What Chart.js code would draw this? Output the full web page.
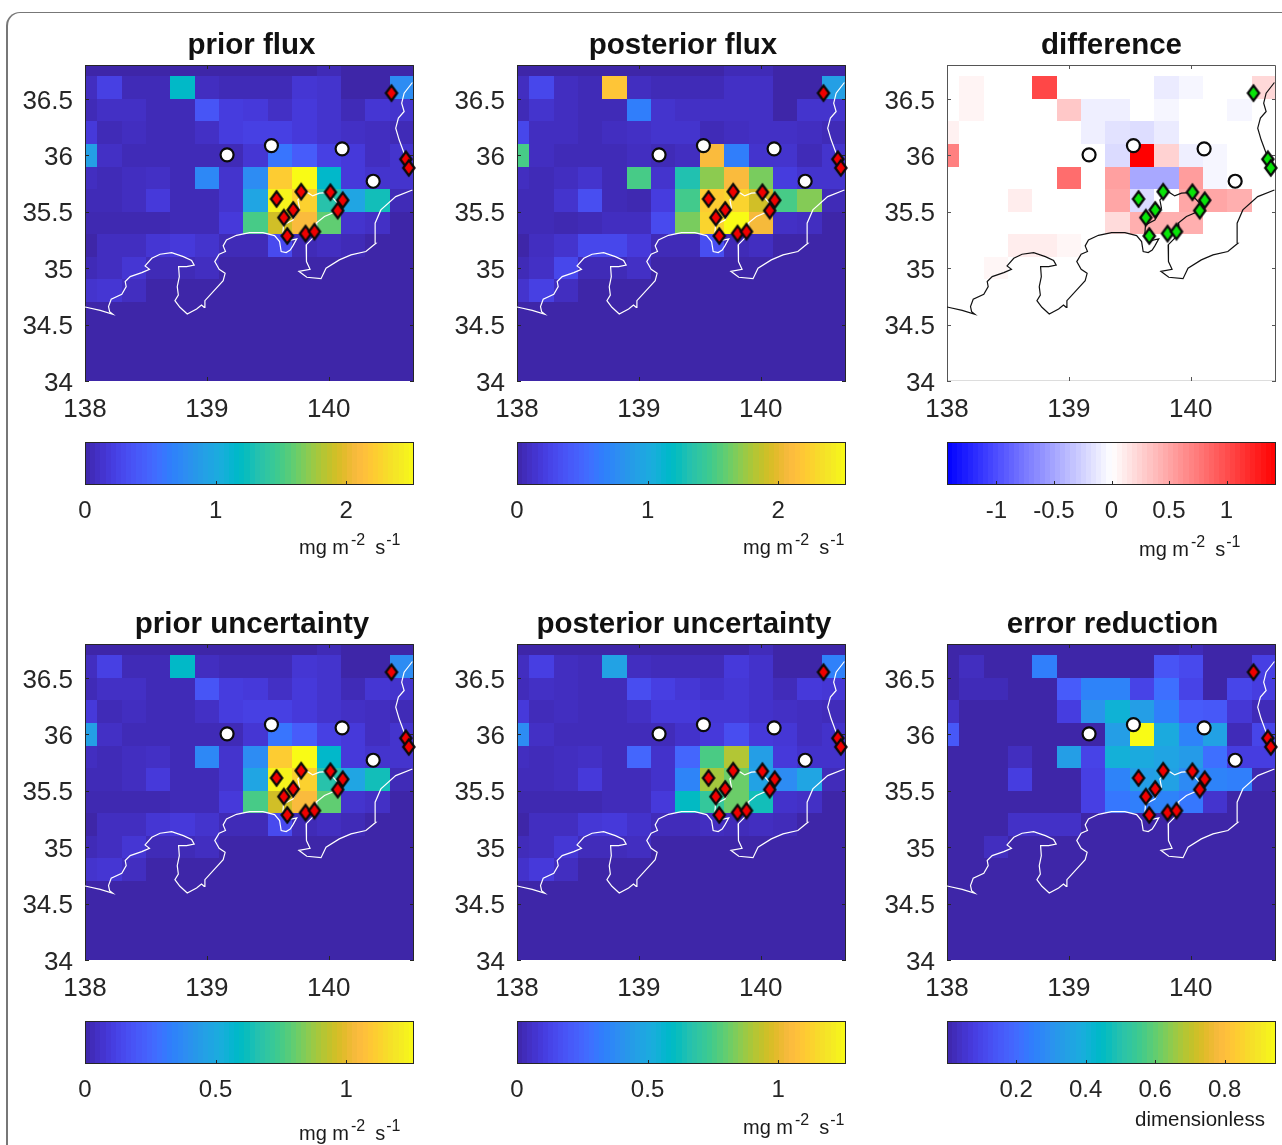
<!DOCTYPE html>
<html>
<head>
<meta charset="utf-8">
<title>flux maps</title>
<script src="https://cdn.jsdelivr.net/npm/chart.js@4/dist/chart.umd.min.js"></script>
<style>
  html, body { margin: 0; padding: 0; background: #fff; width: 1282px; height: 1145px; overflow: hidden; }
  canvas { position: absolute; }
  #card { position: absolute; left: 6px; top: 12px; width: 1340px; height: 1240px; border: solid #777; border-width: 1px 0 0 2px; border-top-left-radius: 14px; }
</style>
</head>
<body>
<div id="card"></div>
<script>
// cell centres of the inversion grid
const lons = [138.0, 138.2, 138.4, 138.6, 138.8, 139.0, 139.2, 139.4, 139.6, 139.8, 140.0, 140.2, 140.4, 140.6];
const lats = [36.8, 36.6, 36.4, 36.2, 36.0, 35.8, 35.6, 35.4, 35.2, 35.0, 34.8];

const priorFlux = [
  [0,0,0,0,0,0,0,0,0,0,.05,0,0,0],
  [.08,.23,.05,.05,1.18,.08,.05,.05,.05,.15,.13,0,0,.76],
  [.05,.10,.10,.05,.05,.38,.20,.18,.10,.18,.13,.05,.15,.13],
  [.18,.05,.08,.05,.05,.10,.20,.23,.23,.18,.13,.10,.08,.05],
  [.91,.10,.05,.05,.05,.05,.05,.15,.60,.43,.23,.18,.08,.13],
  [.08,.05,.08,.10,.05,.73,.13,.76,2.22,2.52,1.16,.18,.13,.13],
  [.05,.05,.08,.18,.05,.05,.13,.96,2.47,2.25,1.34,.96,1.26,.05],
  [.03,.03,.03,.03,.05,.05,.18,1.51,1.92,2.09,1.59,.13,.10,0],
  [0,.08,.08,.15,.18,.13,.05,.05,.30,.05,.08,.05,0,0],
  [.05,.08,.15,.05,.05,.08,0,0,0,0,0,0,0,0],
  [.13,.15,.08,0,0,0,0,0,0,0,0,0,0,0]
];
const posteriorFlux = [
  [0,0,0,0,0,0,0,0,0,.05,.05,0,0,0],
  [.08,.28,.08,.05,2.17,.08,.05,.05,.05,.10,.10,0,0,.91],
  [.05,.13,.08,.05,.05,.66,.13,.10,.10,.10,.10,0,.13,.13],
  [.28,.08,.08,.05,.08,.10,.13,.13,.05,.08,.10,.10,.08,.05],
  [1.51,.08,.05,.05,.05,.08,.05,.08,2.09,.66,.13,.13,.05,.13],
  [.08,.05,.08,.13,.05,1.51,.13,1.31,1.71,2.09,1.66,.20,.13,.13],
  [.05,.05,.13,.33,.05,.03,.20,1.49,2.22,2.27,1.92,1.51,1.69,.05],
  [.05,.05,.03,.05,.08,.08,.30,1.66,2.27,2.52,2.07,.10,.08,0],
  [0,.08,.13,.28,.28,.18,.05,.05,.33,.05,.08,0,0,0],
  [.05,.10,.28,.05,.05,.10,0,0,0,0,0,0,0,0],
  [.13,.23,.08,0,0,0,0,0,0,0,0,0,0,0]
];
const fluxDifference = [
  [0,0,0,0,0,0,0,0,0,0,0,0,0,0],
  [0,.06,0,0,1.03,0,0,0,0,-.11,-.05,0,0,.22],
  [0,.06,0,0,0,.31,-.09,-.09,0,-.05,0,0,-.05,0],
  [.08,0,0,0,0,0,-.09,-.16,-.19,-.11,0,0,0,0],
  [.71,0,0,0,0,0,0,-.20,1.43,.25,-.09,-.05,0,0],
  [0,0,0,0,0,.82,0,.53,-.49,-.49,.55,-.05,0,0],
  [0,0,0,.10,0,0,0,.50,-.20,0,.50,.50,.45,0],
  [0,0,0,0,0,0,0,.20,.45,.45,.45,0,0,0],
  [0,0,0,.10,.10,.05,0,0,0,0,0,0,0,0],
  [0,0,.05,0,0,0,0,0,0,0,0,0,0,0],
  [0,0,0,0,0,0,0,0,0,0,0,0,0,0]
];
const priorUncertainty = [
  [0,0,0,0,0,0,0,0,0,0,.025,0,0,0],
  [.04,.115,.025,.025,.59,.04,.025,.025,.025,.075,.065,0,0,.38],
  [.025,.05,.05,.025,.025,.19,.10,.09,.05,.09,.065,.025,.075,.065],
  [.09,.025,.04,.025,.025,.05,.10,.115,.115,.09,.065,.05,.04,.025],
  [.455,.05,.025,.025,.025,.025,.025,.075,.30,.215,.115,.09,.04,.065],
  [.04,.025,.04,.05,.025,.365,.065,.38,1.11,1.26,.58,.09,.065,.065],
  [.025,.025,.04,.09,.025,.025,.065,.48,1.235,1.125,.67,.48,.63,.025],
  [.015,.015,.015,.015,.025,.025,.09,.755,.96,1.045,.795,.065,.05,0],
  [0,.04,.04,.075,.09,.065,.025,.025,.15,.025,.04,.025,0,0],
  [.025,.04,.075,.025,.025,.04,0,0,0,0,0,0,0,0],
  [.065,.075,.04,0,0,0,0,0,0,0,0,0,0,0]
];
const posteriorUncertainty = [
  [0,0,0,0,0,0,0,0,0,0,.03,0,0,0],
  [.04,.11,.04,.03,.47,.04,.03,.03,.03,.09,.06,0,0,.34],
  [.03,.05,.04,.03,.03,.16,.11,.08,.06,.08,.06,.03,.09,.08],
  [.09,.03,.04,.03,.03,.05,.09,.09,.08,.08,.06,.05,.04,.03],
  [.38,.05,.03,.03,.03,.03,.03,.06,.09,.16,.09,.08,.04,.06],
  [.04,.03,.04,.05,.03,.25,.06,.25,.76,.91,.45,.09,.06,.06],
  [.03,.03,.04,.09,.03,.03,.06,.35,.89,.81,.47,.38,.48,.03],
  [.015,.015,.015,.015,.03,.03,.09,.60,.71,.81,.63,.06,.05,0],
  [0,.04,.04,.08,.09,.06,.03,.03,.04,.03,.04,.03,0,0],
  [.03,.04,.08,.03,.03,.04,0,0,0,0,0,0,0,0],
  [.06,.09,.04,0,0,0,0,0,0,0,0,0,0,0]
];
const errorReduction = [
  [0,0,0,0,0,0,0,0,0,0,.02,0,0,0],
  [0,.03,0,0,.25,0,0,0,0,.14,.11,0,0,.085],
  [0,.02,.02,0,0,.16,.26,.26,.095,.21,.095,0,.10,.08],
  [.04,0,0,0,0,.08,.31,.41,.34,.25,.16,.15,.06,.02],
  [.15,0,0,0,0,0,0,.34,.948,.38,.26,.35,.02,.10],
  [0,0,0,.03,0,.34,.095,.40,.38,.36,.33,.21,.08,.08],
  [0,0,0,.08,0,0,.085,.26,.34,.35,.28,.26,.25,.01],
  [0,0,0,0,0,0,.085,.23,.25,.26,.23,.05,0,0],
  [0,0,0,.04,.04,.04,0,0,0,0,0,0,0,0],
  [0,0,.03,0,0,0,0,0,0,0,0,0,0,0],
  [0,0,0,0,0,0,0,0,0,0,0,0,0,0]
];

// observation sites (diamonds) and the white circles
const siteLon = [140.515, 140.633, 140.657, 139.572, 139.774, 140.014, 140.115, 140.074, 139.709, 139.632, 139.660, 139.810, 139.883];
const siteLat = [36.551, 35.965, 35.888, 35.613, 35.678, 35.673, 35.602, 35.510, 35.516, 35.448, 35.285, 35.306, 35.324];
const circleLon = [139.166, 139.530, 140.110, 140.365];
const circleLat = [36.004, 36.086, 36.057, 35.770];

const southCoast = [
  [138.000,34.656],[138.125,34.626],[138.229,34.591],[138.202,34.615],[138.193,34.659],[138.215,34.724],[138.302,34.768],
  [138.338,34.836],[138.330,34.881],[138.371,34.925],[138.466,34.960],[138.529,34.990],[138.493,35.020],[138.548,35.087],
  [138.616,35.123],[138.711,35.138],[138.807,35.102],[138.875,35.067],[138.896,35.028],[138.834,35.014],[138.768,35.014],
  [138.774,34.925],[138.757,34.836],[138.766,34.762],[138.738,34.712],[138.779,34.653],[138.839,34.594],[138.916,34.638],
  [138.956,34.674],[138.978,34.653],[138.984,34.712],[139.065,34.807],[139.134,34.889],[139.150,34.954],[139.101,34.990],
  [139.065,35.058],[139.101,35.123],[139.153,35.147],[139.134,35.197],[139.161,35.250],[139.243,35.291],[139.351,35.315],
  [139.460,35.315],[139.556,35.288],[139.597,35.235],[139.610,35.147],[139.651,35.138],[139.684,35.161],[139.706,35.197],
  [139.738,35.259],[139.673,35.244],[139.624,35.309],[139.629,35.383],[139.706,35.427],[139.760,35.531],[139.747,35.605],
  [139.815,35.678],[139.869,35.640],[139.924,35.664],[139.992,35.670],[140.074,35.575],[140.060,35.501],[139.965,35.457],
  [139.896,35.398],[139.902,35.339],[139.869,35.265],[139.815,35.206],[139.820,35.132],[139.815,35.058],[139.847,34.990],
  [139.755,34.972],[139.820,34.919],[139.937,34.907],[139.978,34.999],[140.087,35.073],[140.183,35.117],[140.305,35.147],
  [140.387,35.220],[140.381,35.398],[140.428,35.516],[140.550,35.634],[140.687,35.693]
];
const eastCoast = [
  [140.687,36.645],[140.619,36.550],[140.599,36.462],[140.619,36.388],[140.572,36.329],[140.550,36.240],[140.578,36.137],
  [140.619,36.018],[140.687,35.900]
];

const xTicks = [138, 139, 140];
const yTicks = [34, 34.5, 35, 35.5, 36, 36.5];
const fluxTicks = [0, 1, 2];
const uncertaintyTicks = [0, 0.5, 1];
const differenceTicks = [-1, -0.5, 0, 0.5, 1];
const reductionTicks = [0.2, 0.4, 0.6, 0.8];

const parula = [
  [.2422,.1504,.6603],[.2504,.1650,.7076],[.2578,.1818,.7511],[.2647,.1978,.7952],[.2706,.2147,.8364],[.2751,.2342,.8710],
  [.2783,.2559,.8991],[.2803,.2782,.9221],[.2813,.3006,.9414],[.2810,.3228,.9579],[.2795,.3447,.9717],[.2760,.3667,.9829],
  [.2699,.3892,.9906],[.2602,.4123,.9952],[.2440,.4358,.9988],[.2206,.4603,.9973],[.1963,.4847,.9892],[.1834,.5074,.9798],
  [.1786,.5289,.9682],[.1764,.5499,.9520],[.1687,.5703,.9359],[.1540,.5902,.9218],[.1460,.6091,.9079],[.1380,.6276,.8973],
  [.1248,.6459,.8883],[.1113,.6635,.8763],[.0952,.6798,.8598],[.0689,.6948,.8394],[.0297,.7082,.8163],[.0036,.7203,.7917],
  [.0067,.7312,.7660],[.0433,.7411,.7394],[.0964,.7500,.7120],[.1408,.7584,.6842],[.1717,.7670,.6554],[.1938,.7758,.6251],
  [.2161,.7843,.5923],[.2470,.7918,.5567],[.2906,.7973,.5188],[.3406,.8008,.4789],[.3909,.8029,.4354],[.4456,.8024,.3909],
  [.5044,.7993,.3480],[.5616,.7942,.3045],[.6174,.7876,.2612],[.6720,.7793,.2227],[.7242,.7698,.1910],[.7738,.7598,.1646],
  [.8203,.7498,.1535],[.8634,.7406,.1596],[.9035,.7330,.1774],[.9393,.7288,.2100],[.9728,.7298,.2394],[.9956,.7434,.2371],
  [.9970,.7659,.2199],[.9952,.7893,.2028],[.9892,.8136,.1885],[.9786,.8386,.1766],[.9676,.8639,.1643],[.9610,.8890,.1537],
  [.9597,.9135,.1423],[.9628,.9373,.1265],[.9691,.9606,.1064],[.9769,.9839,.0805]
];

function parulaColor(v, min, max) {
  let t = Math.min(1, Math.max(0, (v - min) / (max - min))) * (parula.length - 1);
  let i = Math.min(parula.length - 2, Math.floor(t));
  let f = t - i;
  let c = [0, 1, 2].map(k => Math.round(255 * (parula[i][k] * (1 - f) + parula[i + 1][k] * f)));
  return `rgb(${c[0]},${c[1]},${c[2]})`;
}

function divergingColor(v, min, max) {
  let t = Math.min(1, Math.abs(v) / max);
  let c = Math.round(255 * (1 - t));
  return v >= 0 ? `rgb(255,${c},${c})` : `rgb(${c},${c},255)`;
}

// MATLAB's narrow diamond marker, Chart.js only has a square one
function diamondMarker(fill) {
  const cv = document.createElement('canvas');
  cv.width = 22;
  cv.height = 26;
  const c = cv.getContext('2d');
  c.beginPath();
  c.moveTo(11, 13 - 7.6);
  c.lineTo(11 + 5.6, 13);
  c.lineTo(11, 13 + 7.6);
  c.lineTo(11 - 5.6, 13);
  c.closePath();
  c.fillStyle = fill;
  c.fill();
  c.lineWidth = 2.3;
  c.strokeStyle = '#0a0a0a';
  c.lineJoin = 'miter';
  c.stroke();
  return cv;
}

const FONT = '"Liberation Sans", Arial, sans-serif';
const INK = '#262626';

const heatCells = {
  id: 'heatCells',
  beforeDatasetsDraw(chart, args, opts) {
    const { ctx, chartArea: a, scales: { x, y } } = chart;
    ctx.save();
    ctx.beginPath();
    ctx.rect(a.left, a.top, a.width, a.height);
    ctx.clip();
    ctx.fillStyle = opts.color(0);
    ctx.fillRect(a.left, a.top, a.width, a.height);
    chart.data.datasets.filter(d => d.cells).forEach(d => d.data.forEach(p => {
      const x0 = Math.round(x.getPixelForValue(p.x - 0.1));
      const x1 = Math.round(x.getPixelForValue(p.x + 0.1));
      const y0 = Math.round(y.getPixelForValue(p.y + 0.1));
      const y1 = Math.round(y.getPixelForValue(p.y - 0.1));
      ctx.fillStyle = opts.color(p.v);
      ctx.fillRect(x0, y0, x1 - x0, y1 - y0);
    }));
    ctx.restore();

    // box with inward ticks on all four sides, the bottom edge is only a faint line
    ctx.save();
    ctx.lineWidth = 1;
    if (opts.bottomEdge) {
      ctx.strokeStyle = opts.bottomEdge;
      ctx.beginPath();
      ctx.moveTo(a.left, a.bottom - 0.5);
      ctx.lineTo(a.right, a.bottom - 0.5);
      ctx.stroke();
    }
    ctx.strokeStyle = opts.frame;
    ctx.beginPath();
    ctx.moveTo(a.left + 0.5, a.bottom);
    ctx.lineTo(a.left + 0.5, a.top + 0.5);
    ctx.lineTo(a.right - 0.5, a.top + 0.5);
    ctx.lineTo(a.right - 0.5, a.bottom);
    x.ticks.forEach(t => {
      const px = Math.round(x.getPixelForValue(t.value)) + 0.5;
      ctx.moveTo(px, a.bottom); ctx.lineTo(px, a.bottom - 4);
      ctx.moveTo(px, a.top); ctx.lineTo(px, a.top + 4);
    });
    y.ticks.forEach(t => {
      const py = Math.round(y.getPixelForValue(t.value)) + 0.5;
      ctx.moveTo(a.left, py); ctx.lineTo(a.left + 4, py);
      ctx.moveTo(a.right, py); ctx.lineTo(a.right - 4, py);
    });
    ctx.stroke();
    ctx.restore();
  }
};

const colorBar = {
  id: 'colorBar',
  beforeDatasetsDraw(chart, args, opts) {
    const { ctx, chartArea: a, scales: { x } } = chart;
    const steps = 64;
    for (let i = 0; i < steps; i++) {
      const v0 = x.min + (x.max - x.min) * i / steps;
      const v1 = x.min + (x.max - x.min) * (i + 1) / steps;
      const x0 = Math.round(x.getPixelForValue(v0));
      const x1 = Math.round(x.getPixelForValue(v1));
      ctx.fillStyle = opts.color((v0 + v1) / 2);
      ctx.fillRect(x0, a.top, x1 - x0, a.height);
    }
    ctx.save();
    ctx.strokeStyle = INK;
    ctx.lineWidth = 1;
    ctx.strokeRect(a.left + 0.5, a.top + 0.5, a.width - 1, a.height - 1);
    ctx.beginPath();
    x.ticks.forEach(t => {
      const px = Math.round(x.getPixelForValue(t.value)) + 0.5;
      ctx.moveTo(px, a.bottom); ctx.lineTo(px, a.bottom - 4);
    });
    ctx.stroke();

    // unit text under the bar, with raised exponents
    ctx.fillStyle = '#1a1a1a';
    ctx.textBaseline = 'alphabetic';
    let px = opts.unitX - chart.canvas.offsetLeft;
    const py = opts.unitY - chart.canvas.offsetTop;
    if (opts.plainUnit) {
      ctx.font = `20.5px ${FONT}`;
      ctx.fillText(opts.plainUnit, px, py);
    } else {
      [['mg m', 20, 0, 2], ['-2', 16, 9, 10], ['s', 20, 0, 1], ['-1', 16, 9, 0]].forEach(([text, size, rise, gap]) => {
        ctx.font = `${size}px ${FONT}`;
        ctx.fillText(text, px, py - rise);
        px += ctx.measureText(text).width + gap;
      });
    }
    ctx.restore();
  }
};

Chart.register(heatCells, colorBar);

const redDiamond = diamondMarker('#f00000');
const greenDiamond = diamondMarker('#08e408');

const FLUX_MAX = 2.52;
const UNC_MAX = 1.26;
const DIFF_MAX = 1.43;
const flux = v => parulaColor(v, 0, FLUX_MAX);
const unc = v => parulaColor(v, 0, UNC_MAX);
const diff = v => divergingColor(v, -DIFF_MAX, DIFF_MAX);
const red = v => parulaColor(v, 0, 0.948);

const panels = [
  { title: 'prior flux', grid: priorFlux, left: 85, top: 65, titleX: 251.5, color: flux, min: 0, max: FLUX_MAX, ticks: fluxTicks, unitX: 299, unitY: 554 },
  { title: 'posterior flux', grid: posteriorFlux, left: 517, top: 65, titleX: 683, color: flux, min: 0, max: FLUX_MAX, ticks: fluxTicks, unitX: 743, unitY: 554 },
  { title: 'difference', grid: fluxDifference, left: 947, top: 65, titleX: 1111.5, color: diff, min: -DIFF_MAX, max: DIFF_MAX, ticks: differenceTicks, unitX: 1139, unitY: 556, dark: true },
  { title: 'prior uncertainty', grid: priorUncertainty, left: 85, top: 644, titleX: 252, color: unc, min: 0, max: UNC_MAX, ticks: uncertaintyTicks, unitX: 299, unitY: 1140 },
  { title: 'posterior uncertainty', grid: posteriorUncertainty, left: 517, top: 644, titleX: 684, color: unc, min: 0, max: UNC_MAX, ticks: uncertaintyTicks, unitX: 743, unitY: 1134 },
  { title: 'error reduction', grid: errorReduction, left: 947, top: 644, titleX: 1112.5, color: red, min: 0.001, max: 0.948, ticks: reductionTicks, unitX: 1135, unitY: 1126, plainUnit: 'dimensionless' }
];

const AX_W = 329;
const AX_H = 316;
const PAD_L = 70, PAD_T = 40, PAD_B = 50;

function addCanvas(left, top, w, h) {
  const cv = document.createElement('canvas');
  cv.width = w;
  cv.height = h;
  cv.style.left = left + 'px';
  cv.style.top = top + 'px';
  document.body.appendChild(cv);
  return cv;
}

panels.forEach(p => {
  // the title is centred on the canvas, an empty right axis takes up the rest so it lands in the right spot
  const padR = 2 * (p.titleX - (p.left - PAD_L)) - (PAD_L + AX_W);
  const cv = addCanvas(p.left - PAD_L, p.top - PAD_T, PAD_L + AX_W + padR, PAD_T + AX_H + PAD_B);
  const cells = [];
  lats.forEach((lat, r) => lons.forEach((lon, c) => cells.push({ x: lon, y: lat, v: p.grid[r][c] })));
  const lineColor = p.dark ? '#111' : '#fff';
  const marker = p.dark ? greenDiamond : redDiamond;

  new Chart(cv.getContext('2d'), {
    type: 'scatter',
    data: {
      datasets: [
        { data: siteLon.map((x, i) => ({ x, y: siteLat[i] })), pointStyle: marker, pointRadius: 8, clip: false },
        {
          data: circleLon.map((x, i) => ({ x, y: circleLat[i] })), pointStyle: 'circle', pointRadius: 6.5,
          pointBackgroundColor: '#fff', pointBorderColor: '#0a0a0a', pointBorderWidth: 2.2, clip: false
        },
        { data: southCoast.map(([x, y]) => ({ x, y })), showLine: true, pointRadius: 0, borderColor: lineColor, borderWidth: 1.2, tension: 0 },
        { data: eastCoast.map(([x, y]) => ({ x, y })), showLine: true, pointRadius: 0, borderColor: lineColor, borderWidth: 1.2, tension: 0 },
        { data: cells, cells: true, pointRadius: 0 }
      ]
    },
    options: {
      responsive: false,
      animation: false,
      events: [],
      layout: { padding: 0 },
      scales: {
        x: {
          type: 'linear', min: 138, max: 140.7,
          grid: { display: false, drawTicks: false }, border: { display: false },
          afterBuildTicks: s => { s.ticks = xTicks.map(value => ({ value })); },
          afterFit: s => { s.height = PAD_B; },
          ticks: { color: INK, font: { family: FONT, size: 26 }, padding: 13, maxRotation: 0, callback: v => String(v) }
        },
        y: {
          type: 'linear', min: 34, max: 36.8,
          grid: { display: false, drawTicks: false }, border: { display: false },
          afterBuildTicks: s => { s.ticks = yTicks.map(value => ({ value })); },
          afterFit: s => { s.width = PAD_L; },
          ticks: { color: INK, font: { family: FONT, size: 26 }, padding: 12, labelOffset: 2.5, callback: v => String(v) }
        },
        spacer: {
          type: 'linear', position: 'right', min: 0, max: 1,
          grid: { display: false, drawTicks: false }, border: { display: false },
          ticks: { display: false },
          afterFit: s => { s.width = padR; }
        }
      },
      plugins: {
        legend: { display: false },
        tooltip: { enabled: false },
        title: {
          display: true, text: p.title, color: '#111',
          font: { family: FONT, size: 29.5, weight: 'bold', lineHeight: 1 },
          padding: { top: 6, bottom: 4.5 }
        },
        heatCells: { color: p.color, frame: p.dark ? '#555' : INK, bottomEdge: p.dark ? '#ddd' : null },
        colorBar: false
      }
    }
  });

  // colour bar below the map
  const barTop = p.top + 377;
  const cb = addCanvas(p.left - 30, barTop, AX_W + 60, 1145 - barTop);
  new Chart(cb.getContext('2d'), {
    type: 'scatter',
    data: { datasets: [] },
    options: {
      responsive: false,
      animation: false,
      events: [],
      layout: { padding: { left: 30, right: 30, top: 0, bottom: cb.height - 43 - 50 } },
      scales: {
        x: {
          type: 'linear', min: p.min, max: p.max,
          grid: { display: false, drawTicks: false }, border: { display: false },
          afterBuildTicks: s => { s.ticks = p.ticks.map(value => ({ value })); },
          afterFit: s => { s.height = 50; },
          ticks: { color: INK, font: { family: FONT, size: 24 }, padding: 12, maxRotation: 0, callback: v => String(v) }
        },
        y: { display: false, min: 0, max: 1 }
      },
      plugins: {
        legend: { display: false },
        tooltip: { enabled: false },
        heatCells: false,
        colorBar: { color: p.color, unitX: p.unitX, unitY: p.unitY, plainUnit: p.plainUnit }
      }
    }
  });
});
</script>
</body>
</html>
